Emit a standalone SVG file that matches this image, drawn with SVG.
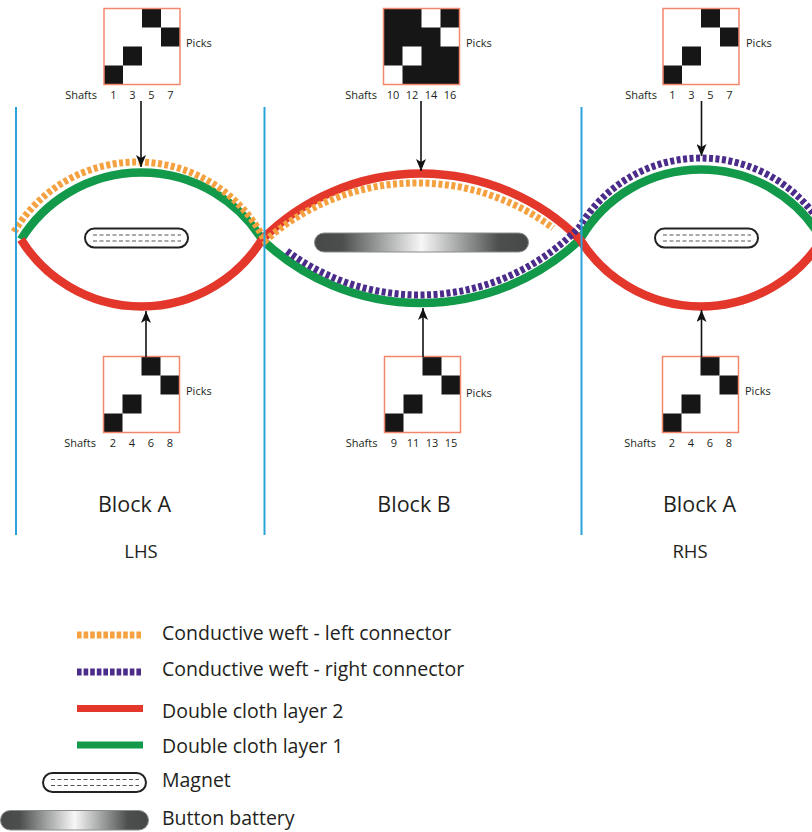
<svg xmlns="http://www.w3.org/2000/svg" xmlns:xlink="http://www.w3.org/1999/xlink" width="812" height="832" viewBox="0 0 812 832">
  <defs>
    <style>
      text { font-family: "Open Sans", "Liberation Sans", sans-serif; fill: #231f20; }
      .lbl { font-size: 11px; }
      .lbl-end { font-size: 11px; text-anchor: end; }
      .num { font-size: 11px; text-anchor: middle; }
      .block { font-size: 21.5px; text-anchor: middle; }
      .side { font-size: 18.5px; text-anchor: middle; }
      .leg { font-size: 19.5px; }
      .frame { fill: none; stroke: #f2876c; stroke-width: 1.5; }
      .cell { fill: #161616; }
      .blank { fill: #ffffff; }
      .divider { stroke: #2ba3da; stroke-width: 2; fill: none; }
      .layer2 { fill: none; stroke: #e3372c; stroke-width: 8.5; }
      .layer1 { fill: none; stroke: #12994a; stroke-width: 8.5; }
      .weft-left { fill: none; stroke: #f5a140; stroke-width: 7; stroke-dasharray: 4 2.5; }
      .weft-right { fill: none; stroke: #4b2c8a; stroke-width: 7; stroke-dasharray: 4 2.5; }
      .legend-dots { stroke-dasharray: 4.6 2; }
      .arrow { fill: none; stroke: #111; stroke-width: 1.6; marker-end: url(#head); }
      .magnet { fill: #ffffff; stroke: #222; stroke-width: 2; }
      .grain { stroke: #555; stroke-width: 1; stroke-dasharray: 4 2.5; fill: none; }
      .battery { fill: url(#steel); stroke: #8a8c8c; stroke-width: 1; }
    </style>

    <marker id="head" markerUnits="userSpaceOnUse" markerWidth="12" markerHeight="10" refX="12" refY="5" orient="auto">
      <path d="M0,0 L12,5 L0,10 L3,5 Z" fill="#111"/>
    </marker>

    <linearGradient id="steel" x1="0" y1="0" x2="1" y2="0">
      <stop offset="0" stop-color="#464848"/>
      <stop offset="0.13" stop-color="#4d4f4f"/>
      <stop offset="0.5" stop-color="#f7f7f7"/>
      <stop offset="0.86" stop-color="#4d4f4f"/>
      <stop offset="1" stop-color="#464848"/>
    </linearGradient>

    <!-- 4x4 lifting plan: diagonal twill -->
    <g id="twill">
      <rect class="blank" width="76" height="76"/>
      <rect class="cell" x="38" y="0" width="19" height="19"/>
      <rect class="cell" x="57" y="19" width="19" height="19"/>
      <rect class="cell" x="19" y="38" width="19" height="19"/>
      <rect class="cell" x="0" y="57" width="19" height="19"/>
      <rect class="frame" width="76" height="76"/>
    </g>

    <!-- 4x4 lifting plan: inverse of the twill -->
    <g id="twill-inverse">
      <rect class="cell" width="76" height="76"/>
      <rect class="blank" x="38" y="0" width="19" height="19"/>
      <rect class="blank" x="57" y="19" width="19" height="19"/>
      <rect class="blank" x="19" y="38" width="19" height="19"/>
      <rect class="blank" x="0" y="57" width="19" height="19"/>
      <rect class="frame" width="76" height="76"/>
    </g>

    <!-- magnet: rounded bar with grain lines -->
    <g id="magnet-bar">
      <rect class="magnet" x="0" y="0" width="103" height="19" rx="9.5"/>
      <line class="grain" x1="8" y1="6.5" x2="96" y2="6.5"/>
      <line class="grain" x1="8" y1="12.5" x2="96" y2="12.5"/>
    </g>
  </defs>

  <rect width="812" height="832" fill="#ffffff"/>

  <!-- woven strands -->
  <g id="strands">
    <path class="layer1" d="M21,239.5 A141.9,141.9 0 0 1 262,239.5 A230.8,230.8 0 0 0 580,239.5 A139.6,139.6 0 0 1 822,239.5"/>
    <path class="layer2" d="M21,239.5 A141.9,141.9 0 0 0 262,239.5 A224.5,224.5 0 0 1 580,239.5 A142.8,142.8 0 0 0 822,239.5"/>
    <path class="weft-left" d="M14,232 A143.1,143.1 0 0 1 265,241 A227.9,227.9 0 0 1 553,228"/>
    <path class="weft-right" d="M287,251 A221.9,221.9 0 0 0 579.5,226.9 A141.7,141.7 0 0 1 830,241"/>
  </g>

  <!-- block dividers -->
  <g id="dividers">
    <line class="divider" x1="16" y1="107" x2="16" y2="535"/>
    <line class="divider" x1="264.5" y1="107" x2="264.5" y2="535"/>
    <line class="divider" x1="581.5" y1="107" x2="581.5" y2="535"/>
  </g>

  <!-- inserts -->
  <g id="magnet-left"><use xlink:href="#magnet-bar" href="#magnet-bar" x="85" y="228.5"/></g>
  <g id="battery"><rect class="battery" x="314.5" y="233" width="214" height="19" rx="9.5"/></g>
  <g id="magnet-right"><use xlink:href="#magnet-bar" href="#magnet-bar" x="655" y="228.5"/></g>

  <!-- lifting plans, upper row -->
  <g id="plan-top-left">
    <use xlink:href="#twill" href="#twill" x="104" y="8.5"/>
    <text class="lbl" x="186" y="47">Picks</text>
    <text class="lbl-end" x="97" y="99">Shafts</text>
    <text class="num" x="113.5" y="99">1</text>
    <text class="num" x="132.5" y="99">3</text>
    <text class="num" x="151.5" y="99">5</text>
    <text class="num" x="170.5" y="99">7</text>
  </g>
  <g id="plan-top-middle">
    <use xlink:href="#twill-inverse" href="#twill-inverse" x="383.5" y="8.5"/>
    <text class="lbl" x="466" y="47">Picks</text>
    <text class="lbl-end" x="377" y="99">Shafts</text>
    <text class="num" x="393" y="99">10</text>
    <text class="num" x="412" y="99">12</text>
    <text class="num" x="431" y="99">14</text>
    <text class="num" x="450" y="99">16</text>
  </g>
  <g id="plan-top-right">
    <use xlink:href="#twill" href="#twill" x="663" y="8.5"/>
    <text class="lbl" x="746" y="47">Picks</text>
    <text class="lbl-end" x="657" y="99">Shafts</text>
    <text class="num" x="672.5" y="99">1</text>
    <text class="num" x="691.5" y="99">3</text>
    <text class="num" x="710.5" y="99">5</text>
    <text class="num" x="729.5" y="99">7</text>
  </g>

  <!-- lifting plans, lower row -->
  <g id="plan-bottom-left">
    <use xlink:href="#twill" href="#twill" x="103.5" y="356.5"/>
    <text class="lbl" x="186" y="395">Picks</text>
    <text class="lbl-end" x="96" y="447">Shafts</text>
    <text class="num" x="113" y="447">2</text>
    <text class="num" x="132" y="447">4</text>
    <text class="num" x="151" y="447">6</text>
    <text class="num" x="170" y="447">8</text>
  </g>
  <g id="plan-bottom-middle">
    <use xlink:href="#twill" href="#twill" x="384.5" y="356.5"/>
    <text class="lbl" x="466" y="397">Picks</text>
    <text class="lbl-end" x="377.5" y="447">Shafts</text>
    <text class="num" x="394" y="447">9</text>
    <text class="num" x="413" y="447">11</text>
    <text class="num" x="432" y="447">13</text>
    <text class="num" x="451" y="447">15</text>
  </g>
  <g id="plan-bottom-right">
    <use xlink:href="#twill" href="#twill" x="662.5" y="356.5"/>
    <text class="lbl" x="745" y="395">Picks</text>
    <text class="lbl-end" x="656" y="447">Shafts</text>
    <text class="num" x="672" y="447">2</text>
    <text class="num" x="691" y="447">4</text>
    <text class="num" x="710" y="447">6</text>
    <text class="num" x="729" y="447">8</text>
  </g>

  <!-- plan-to-strand pointers -->
  <g id="connectors">
    <path class="arrow" d="M141,101 L141,167"/>
    <path class="arrow" d="M421,101 L421,171"/>
    <path class="arrow" d="M701.5,101 L701.5,156"/>
    <path class="arrow" d="M146,357 L146,311"/>
    <path class="arrow" d="M423,357 L423,308"/>
    <path class="arrow" d="M701.5,357 L701.5,310"/>
  </g>

  <!-- block captions -->
  <g id="captions">
    <text class="block" x="134.5" y="512">Block A</text>
    <text class="block" x="414" y="512">Block B</text>
    <text class="block" x="699.5" y="512">Block A</text>
    <text class="side" x="141" y="558">LHS</text>
    <text class="side" x="690" y="558">RHS</text>
  </g>

  <!-- key -->
  <g id="legend">
    <line class="weft-left legend-dots" x1="77" y1="635" x2="143" y2="635"/>
    <text class="leg" x="162" y="640">Conductive weft - left connector</text>
    <line class="weft-right legend-dots" x1="77" y1="672" x2="143" y2="672"/>
    <text class="leg" x="162" y="675.5">Conductive weft - right connector</text>
    <line class="layer2" x1="77" y1="708.5" x2="143" y2="708.5" style="stroke-width:7"/>
    <text class="leg" x="162" y="718">Double cloth layer 2</text>
    <line class="layer1" x1="77" y1="745" x2="143" y2="745" style="stroke-width:7"/>
    <text class="leg" x="162" y="752.5">Double cloth layer 1</text>
    <use xlink:href="#magnet-bar" href="#magnet-bar" x="43" y="773"/>
    <text class="leg" x="162" y="786.5">Magnet</text>
    <rect class="battery" x="0.5" y="810.5" width="148" height="19.5" rx="9.75"/>
    <text class="leg" x="162" y="825">Button battery</text>
  </g>
</svg>
